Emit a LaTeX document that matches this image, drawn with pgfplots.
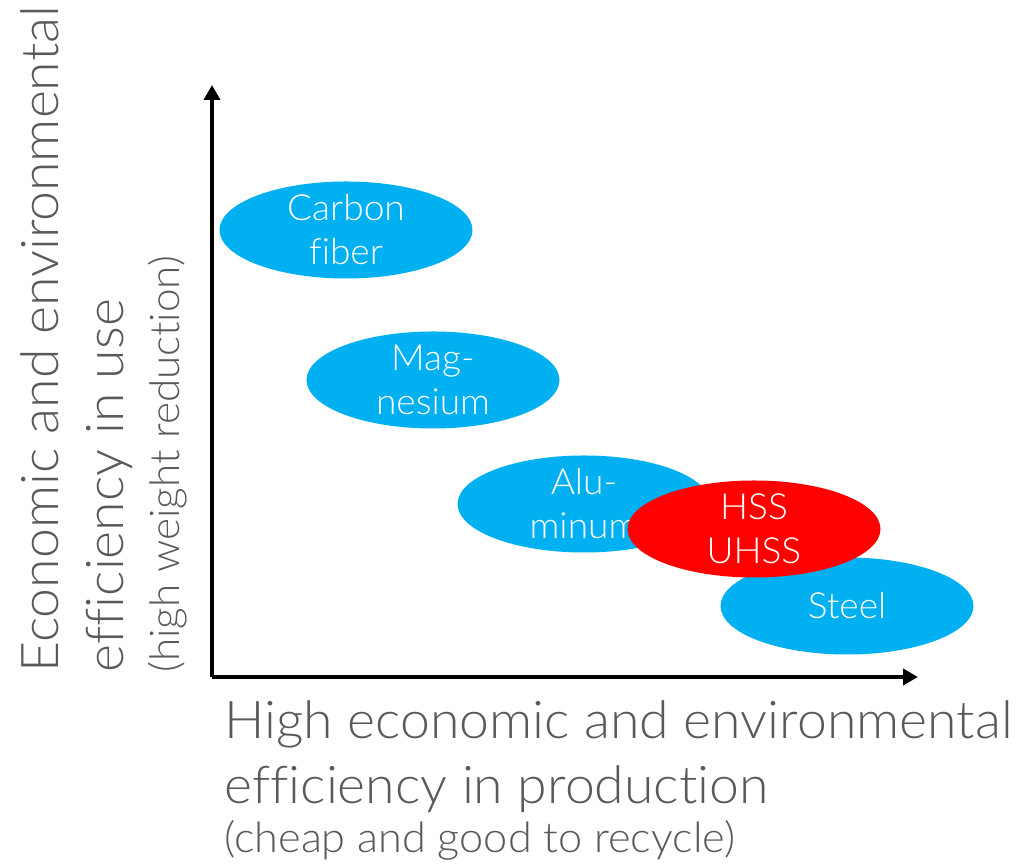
\documentclass[border=0pt]{standalone}
\usepackage{fontspec}
\setmainfont{Lato Light}[Ligatures={NoCommon,NoRequired,NoContextual}, FakeStretch=1.03]
\usepackage{pgfplots}
\pgfplotsset{compat=1.18}
\usetikzlibrary{shapes.geometric,arrows.meta}
\definecolor{cyanfill}{RGB}{0,176,240}
\definecolor{redfill}{RGB}{255,0,0}
\definecolor{labgray}{RGB}{89,89,89}
\pgfplotsset{
  blob/.style n args={2}{only marks, mark=none, nodes near coords={\relax},
    every node near coord/.append style={ellipse, fill=#1, minimum width=126.5pt,
      minimum height=48.5pt, inner sep=0pt, anchor=center,
      label={[text=white, align=center, inner sep=0pt,
        font=\fontsize{18}{22}\selectfont]center:#2}}},
}
\begin{document}
\begin{tikzpicture}
\begin{axis}[
  at={(0,0)}, anchor=south west,
  x=0.5pt, y=0.5pt,
  xmin=0, xmax=706, ymin=0, ymax=592,
  axis lines=left,
  axis line style={line width=2pt, -{Triangle[length=7.5pt,width=8pt]}},
  xtick=\empty, ytick=\empty,
  clip=false,
  xlabel={High economic and environmental\\efficiency in production\\[-8pt]{\fontsize{21}{24}\selectfont (cheap and good to recycle)}},
  xlabel style={at={(axis description cs:0.017,-0.0389)}, anchor=north west,
    align=left, inner sep=0pt, text=labgray, font=\fontsize{26}{32.5}\selectfont},
  ylabel={Economic and environmental\\efficiency in use\\[-4.5pt]{\fontsize{20.5}{24}\selectfont (high weight reduction)}},
  ylabel style={at={(axis description cs:-0.272,0.0068)}, anchor=north west,
    align=left, inner sep=0pt, text=labgray, font=\fontsize{26}{32.5}\selectfont},
]
\addplot[blob={cyanfill}{Carbon\\fiber}] coordinates {(134,447)};
\addplot[blob={cyanfill}{Mag-\\nesium}] coordinates {(221,297)};
\addplot[blob={cyanfill}{Alu-\\minum}] coordinates {(372,173)};
\addplot[blob={cyanfill}{Steel}] coordinates {(635,71)};
\addplot[blob={redfill}{HSS\\UHSS}] coordinates {(542,148)};
\end{axis}
\pgfresetboundingbox
\path (-106pt,-94pt) rectangle (405.5pt,338.5pt);
\end{tikzpicture}
\end{document}
